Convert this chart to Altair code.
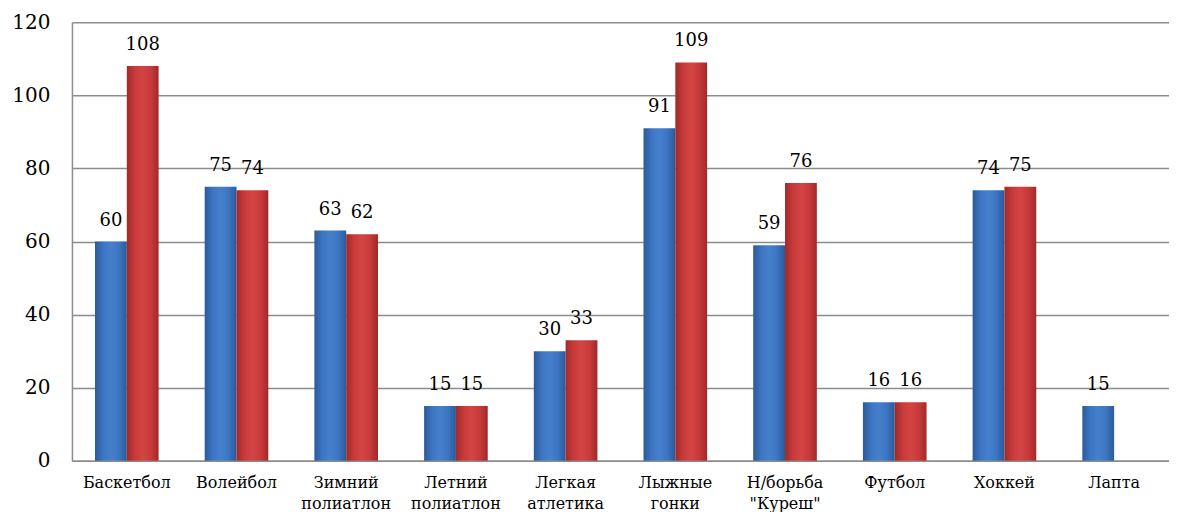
import altair as alt
import pandas as pd

categories = ["Баскетбол", "Волейбол", "Зимний\nполиатлон", "Летний\nполиатлон",
              "Легкая\nатлетика", "Лыжные\nгонки", "Н/борьба\n\"Куреш\"", "Футбол",
              "Хоккей", "Лапта"]
series_names = ["Ряд 1", "Ряд 2"]
series_1 = [60, 75, 63, 15, 30, 91, 59, 16, 74, 15]
series_2 = [108, 74, 62, 15, 33, 109, 76, 16, 75, None]
y_ticks = [0, 20, 40, 60, 80, 100, 120]

rows = []
for c, a, b in zip(categories, series_1, series_2):
    if a is not None:
        rows.append({"cat": c, "s": series_names[0], "v": a})
    if b is not None:
        rows.append({"cat": c, "s": series_names[1], "v": b})
df = pd.DataFrame(rows)

FONT = "DejaVu Serif"

x_enc = alt.X("cat:N", sort=categories, title=None,
              scale=alt.Scale(paddingInner=0.42, paddingOuter=0.21),
              axis=alt.Axis(labelAngle=0, ticks=False, labelFontSize=16, labelFont=FONT,
                            labelColor="#000", labelPadding=14, labelLineHeight=21,
                            domainColor="#8c8c8c", domainWidth=1.5,
                            labelExpr="split(datum.label, '\\n')"))
y_enc = alt.Y("v:Q", title=None,
              scale=alt.Scale(domain=[0, 120], nice=False),
              axis=alt.Axis(values=y_ticks, ticks=False, labelFontSize=20, labelFont=FONT,
                            labelColor="#000", labelPadding=22, gridColor="#8c8c8c",
                            gridWidth=1.5, domainColor="#8c8c8c", domainWidth=1.5))
xo_enc = alt.XOffset("s:N", scale=alt.Scale(domain=series_names, paddingInner=0))

blue = alt.Gradient(gradient="linear", x1=0, x2=1, y1=0, y2=0, stops=[
    alt.GradientStop(color="#2b5a98", offset=0),
    alt.GradientStop(color="#3d75c2", offset=0.25),
    alt.GradientStop(color="#4680cc", offset=0.5),
    alt.GradientStop(color="#3d75c2", offset=0.75),
    alt.GradientStop(color="#2b5a98", offset=1)])
red = alt.Gradient(gradient="linear", x1=0, x2=1, y1=0, y2=0, stops=[
    alt.GradientStop(color="#a02a2a", offset=0),
    alt.GradientStop(color="#c83a3a", offset=0.25),
    alt.GradientStop(color="#d44444", offset=0.5),
    alt.GradientStop(color="#c83a3a", offset=0.75),
    alt.GradientStop(color="#a02a2a", offset=1)])

base = alt.Chart(df)
bars1 = base.transform_filter(alt.datum.s == series_names[0]).mark_bar(fill=blue).encode(
    x=x_enc, y=y_enc, xOffset=xo_enc)
bars2 = base.transform_filter(alt.datum.s == series_names[1]).mark_bar(fill=red).encode(
    x=x_enc, y=y_enc, xOffset=xo_enc)
labels = base.mark_text(font=FONT, fontSize=18, color="#000", baseline="alphabetic", dy=-16).encode(
    x=x_enc, y=y_enc, xOffset=xo_enc, text="v:Q")

chart = alt.layer(bars1, bars2, labels).properties(
    width=1098, height=439,
    padding={"left": 3, "top": 4, "right": 0, "bottom": 0},
).configure_view(stroke=None)

chart.save("out.html", embed_options={"renderer": "svg", "actions": False})
